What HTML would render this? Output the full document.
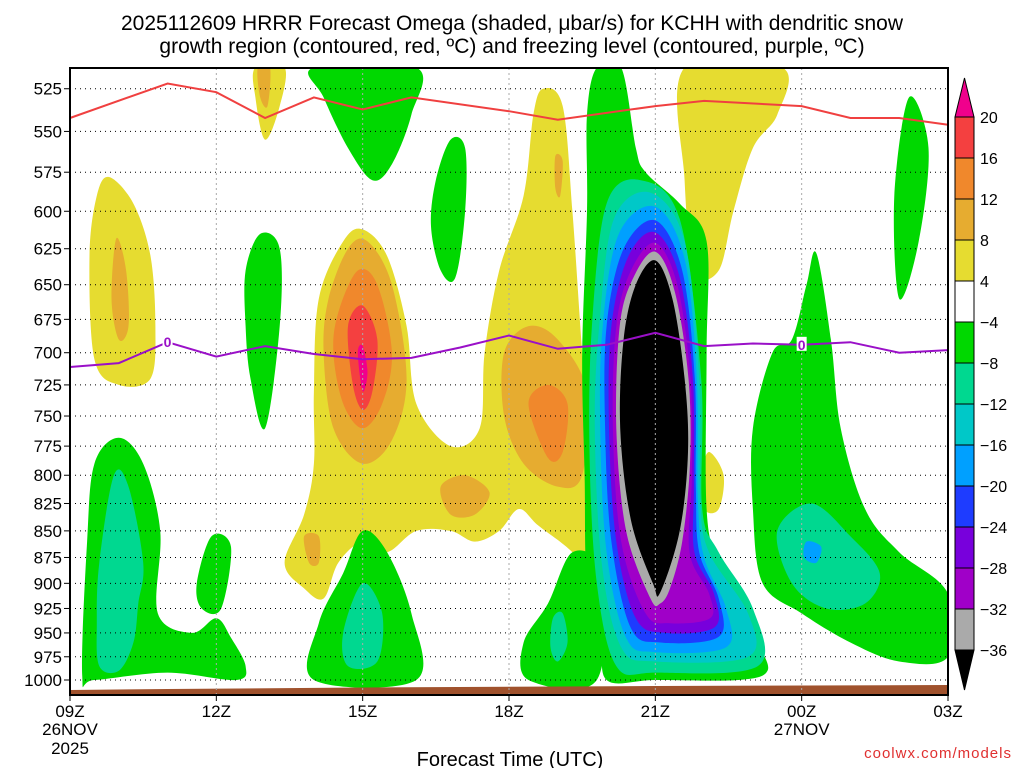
<!DOCTYPE html>
<html><head><meta charset="utf-8"><style>
body{margin:0;background:#fff;}
svg{display:block;font-family:"Liberation Sans","DejaVu Sans",sans-serif;}
</style></head><body>
<svg id="chart" width="1024" height="768" viewBox="0 0 1024 768" xmlns="http://www.w3.org/2000/svg">
<text x="512" y="30" font-size="21" text-anchor="middle">2025112609 HRRR Forecast Omega (shaded, μbar/s) for KCHH with dendritic snow</text>
<text x="512" y="53" font-size="21" text-anchor="middle">growth region (contoured, red, ºC) and freezing level (contoured, purple, ºC)</text>
<g id="fills"></g>
<g id="grid"></g>
<g id="lines"></g>
<g id="axes"></g>
<g id="cbar"></g>
<text x="510" y="766" font-size="20" text-anchor="middle">Forecast Time (UTC)</text>
<text x="1012" y="758" font-size="15" fill="#e03030" text-anchor="end" letter-spacing="1">coolwx.com/models</text>
</svg>
<script>
const C={pink:'#f0008c',red:'#f44040',orange:'#f0882c',gold:'#e6ac30',yellow:'#e6dc30',green:'#00d800',teal:'#00d890',cyan:'#00c8c8',dodger:'#00a0ff',blue:'#1e3cff',purple:'#7800dc',violet:'#a000c8',gray:'#aaaaaa',black:'#000000'};
const timeTicks=[0,3,6,9,12,15,18];
const timeLabels=['09Z','12Z','15Z','18Z','21Z','00Z','03Z'];
const pressureTicks=[525,550,575,600,625,650,675,700,725,750,775,800,825,850,875,900,925,950,975,1000];
const cbarLevels=['20','16','12','8','4','−4','−8','−12','−16','−20','−24','−28','−32','−36'];
const cbarColors=['red','orange','gold','yellow','white','green','teal','cyan','dodger','blue','purple','violet','gray'];
const redLine=[[0,542],[2,522],[3,527],[4,542],[5,530],[6,537],[7,530],[9,538],[10,543],[12,535],[13,532],[15,535],[16,542],[17,542],[18,546]];
const purpleLine=[[0,711],[1,708],[2,692],[3,703],[4,695],[5,701],[6,705],[7,704],[8,696],[9,687],[10,697],[11,694],[12,685],[13,695],[14,693],[15,694],[16,692],[17,700],[18,698]];
const regions=[
['yellow',[[0.8,578],[1.3,595],[1.65,630],[1.75,680],[1.65,720],[1.0,725],[0.5,705],[0.4,630],[0.55,590]]],
['gold',[[0.95,618],[1.15,640],[1.2,680],[1.0,690],[0.85,660]]],
['yellow',[[3.8,513],[4.4,513],[4.3,535],[4.0,555],[3.8,530]]],
['gold',[[3.85,513],[4.1,513],[4.05,535],[3.9,530]]],
['yellow',[[4.4,880],[4.8,835],[5.0,790],[5.0,730],[5.1,660],[5.6,620],[6.0,612],[6.5,630],[6.9,680],[7.1,740],[7.8,775],[8.4,760],[8.5,700],[8.8,640],[9.3,590],[9.5,540],[9.7,525],[10.1,535],[10.3,600],[10.5,700],[10.7,800],[10.9,880],[10.8,900],[10.3,870],[9.6,845],[9.2,830],[8.8,850],[8.3,860],[7.8,850],[7.1,850],[6.5,870],[6.0,860],[5.5,880],[5.2,915],[4.8,905]]],
['gold',[[5.3,660],[5.7,625],[6.1,620],[6.6,650],[6.9,720],[6.6,770],[6.0,790],[5.4,760],[5.2,700]]],
['orange',[[5.5,670],[5.9,640],[6.3,650],[6.6,700],[6.4,740],[6.0,760],[5.6,740],[5.4,700]]],
['red',[[5.7,680],[6.0,665],[6.3,690],[6.2,730],[6.0,745],[5.8,725]]],
['pink',[[5.9,700],[6.0,695],[6.1,715],[6.0,730]]],
['gold',[[8.9,700],[9.4,680],[10.0,690],[10.6,730],[10.5,800],[10.0,810],[9.3,790],[8.9,750]]],
['orange',[[9.4,740],[9.8,725],[10.2,740],[10.1,780],[9.8,785]]],
['gold',[[9.95,565],[10.1,568],[10.05,590],[9.95,585]]],
['gold',[[7.6,810],[8.1,800],[8.6,815],[8.3,835],[7.8,835]]],
['gold',[[4.8,855],[5.1,855],[5.1,880],[4.9,880]]],
['yellow',[[12.6,513],[14.6,513],[14.5,540],[14.0,560],[13.6,600],[13.3,640],[12.8,640],[12.6,580]]],
['yellow',[[13.1,780],[13.4,800],[13.3,830],[13.0,830],[12.95,800]]],
['green',[[5.0,513],[7.1,513],[7.0,540],[6.6,570],[6.2,580],[5.7,560],[5.2,530]]],
['green',[[7.5,580],[7.8,555],[8.1,560],[8.1,600],[7.9,645],[7.6,640],[7.4,610]]],
['green',[[3.6,640],[3.9,615],[4.3,625],[4.3,680],[4.0,760],[3.7,720],[3.6,680]]],
['green',[[0.25,995],[0.35,860],[0.5,790],[1.0,768],[1.5,790],[1.85,850],[1.8,930],[2.5,950],[3.0,935],[3.3,955],[3.6,985],[3.4,1000],[2.0,992],[0.5,1000]]],
['teal',[[0.6,880],[0.9,800],[1.2,810],[1.5,880],[1.4,920],[1.3,960],[1.0,990],[0.6,985],[0.55,940]]],
['green',[[2.6,900],[2.9,855],[3.3,865],[3.1,925],[2.7,925]]],
['green',[[5.0,1000],[5.1,940],[5.6,890],[6.0,850],[6.5,870],[7.0,930],[7.1,1000]]],
['teal',[[5.6,950],[6.0,900],[6.4,930],[6.3,980],[5.7,985]]],
['green',[[9.4,1000],[9.3,960],[9.8,920],[10.3,870],[10.9,890],[10.8,1000]]],
['teal',[[9.9,935],[10.1,930],[10.2,960],[10.0,980],[9.85,965]]],
['green',[[10.8,513],[11.3,513],[11.6,560],[11.8,575],[12.5,595],[13.05,620],[13.05,700],[13.05,830],[13.3,880],[13.8,925],[14.1,960],[14.3,990],[13.7,1000],[12.0,1000],[11.0,1000],[10.9,950],[10.6,900],[10.55,800],[10.5,700],[10.6,600],[10.6,540]]],
['teal',[[11.7,580],[12.5,605],[12.94,720],[12.96,830],[13.3,870],[14.0,925],[14.1,985],[12.0,992],[11.2,985],[10.8,900],[10.65,780],[10.7,680],[11.0,595]]],
['cyan',[[11.9,588],[12.6,620],[12.9,720],[12.92,820],[13.1,870],[13.9,930],[13.9,975],[12.0,980],[11.3,965],[10.9,880],[10.76,760],[10.85,680],[11.15,605]]],
['dodger',[[12.0,597],[12.6,632],[12.85,720],[12.87,820],[13.0,875],[13.45,925],[13.45,965],[12.0,970],[11.4,955],[11.0,870],[10.87,760],[10.92,680],[11.25,615]]],
['blue',[[12.0,606],[12.55,640],[12.81,720],[12.83,810],[12.9,870],[13.3,915],[13.3,954],[12.1,960],[11.5,945],[11.1,860],[10.97,760],[11.0,680],[11.35,625]]],
['purple',[[12.0,614],[12.5,645],[12.77,720],[12.79,810],[12.8,870],[13.2,910],[13.22,944],[12.2,950],[11.6,935],[11.2,860],[11.05,760],[11.1,680],[11.45,630]]],
['violet',[[12.0,621],[12.45,650],[12.72,720],[12.75,800],[12.7,870],[13.1,910],[13.12,935],[12.3,940],[11.8,930],[11.3,860],[11.13,760],[11.2,680],[11.5,640]]],
['gray',[[12.0,627],[12.4,655],[12.68,720],[12.71,790],[12.55,860],[12.3,905],[12.1,920],[11.9,915],[11.4,850],[11.2,760],[11.27,680],[11.55,645]]],
['black',[[12.0,633],[12.35,660],[12.6,720],[12.67,780],[12.5,850],[12.1,909],[11.95,900],[11.5,840],[11.28,760],[11.35,690],[11.6,650]]],
['green',[[14.0,760],[14.4,700],[14.8,690],[15.1,650],[15.3,628],[15.6,690],[15.8,760],[16.3,830],[17.0,870],[18.0,910],[18.0,975],[17.0,980],[16.0,960],[15.0,930],[14.2,900],[14.0,830]]],
['teal',[[14.5,850],[15.2,825],[16.0,855],[16.6,890],[16.3,920],[15.5,925],[14.8,900]]],
['dodger',[[15.1,860],[15.4,865],[15.3,880],[15.05,875]]],
['green',[[16.9,590],[17.2,530],[17.6,560],[17.4,620],[17.0,660]]]
];
const X0=70,X1=948,Y1000=680,K=917.6,YT=68,YB=695;
const xS=h=>X0+h*(X1-X0)/18;
const yS=p=>Y1000-K*Math.log(1000/p);
const NS='http://www.w3.org/2000/svg';
function mk(tag,attrs,parent){const e=document.createElementNS(NS,tag);for(const k in attrs)e.setAttribute(k,attrs[k]);parent.appendChild(e);return e;}
function smooth(pts){const n=pts.length;let d='M'+pts[0][0].toFixed(1)+','+pts[0][1].toFixed(1);
for(let i=0;i<n;i++){const p0=pts[(i-1+n)%n],p1=pts[i],p2=pts[(i+1)%n],p3=pts[(i+2)%n];
const c1=[p1[0]+(p2[0]-p0[0])/6,p1[1]+(p2[1]-p0[1])/6],c2=[p2[0]-(p3[0]-p1[0])/6,p2[1]-(p3[1]-p1[1])/6];
d+='C'+c1.map(v=>v.toFixed(1)).join(',')+' '+c2.map(v=>v.toFixed(1)).join(',')+' '+p2[0].toFixed(1)+','+p2[1].toFixed(1);}
return d+'Z';}
const fills=document.getElementById('fills');
const defs=mk('defs',{},fills);const cp=mk('clipPath',{id:'pc'},defs);mk('rect',{x:X0,y:YT,width:X1-X0,height:YB-YT},cp);
const fg=mk('g',{'clip-path':'url(#pc)'},fills);
regions.forEach((r,i)=>{const el=mk('path',{d:smooth(r[1].map(q=>[xS(q[0]),yS(q[1])])),fill:C[r[0]]},fg);

});
const gr=mk('path',{d:`M${X0},690 L${xS(2)},689 L${xS(6)},687.5 L${xS(12)},686 L${X1},685 L${X1},${YB} L${X0},${YB}Z`,fill:'#a0522d'},fg);


const grid=document.getElementById('grid');
pressureTicks.forEach(p=>{const l=mk('line',{x1:X0,x2:X1,y1:yS(p),y2:yS(p),stroke:'#000','stroke-width':1,'stroke-dasharray':'1,4'},grid);

});
timeTicks.slice(1,-1).forEach(h=>{const l=mk('line',{x1:xS(h),x2:xS(h),y1:YT,y2:YB,stroke:'#aaa','stroke-width':1,'stroke-dasharray':'2,3'},grid);

});
const lines=document.getElementById('lines');
function poly(arr,col,name){const el=mk('polyline',{points:arr.map(q=>xS(q[0]).toFixed(1)+','+yS(q[1]).toFixed(1)).join(' '),fill:'none',stroke:col,'stroke-width':2},lines);

}
poly(redLine,'#f04040','dendritic-growth-contour');
poly(purpleLine,'#9a10c8','freezing-level-contour');
[2,15].forEach(h=>{const v=purpleLine.find(q=>q[0]===h)[1];
mk('rect',{x:xS(h)-5,y:yS(v)-8,width:10,height:14,fill:'#fff'},lines);
const t=mk('text',{x:xS(h),y:yS(v)+5,'font-size':14,'text-anchor':'middle',fill:'#9a10c8','font-weight':'bold'},lines);t.textContent='0';

});
const ax=document.getElementById('axes');
mk('rect',{x:X0,y:YT,width:X1-X0,height:YB-YT,fill:'none',stroke:'#000','stroke-width':2},ax);
pressureTicks.forEach(p=>{mk('line',{x1:X0-6,x2:X0,y1:yS(p),y2:yS(p),stroke:'#000'},ax);
const t=mk('text',{x:X0-8,y:yS(p)+6,'font-size':17,'text-anchor':'end'},ax);t.textContent=p;

});
timeTicks.forEach((h,i)=>{mk('line',{x1:xS(h),x2:xS(h),y1:YB,y2:YB+6,stroke:'#000'},ax);
const t=mk('text',{x:xS(h),y:717,'font-size':17,'text-anchor':'middle'},ax);t.textContent=timeLabels[i];

});
[['26NOV',0,735],['2025',0,754],['27NOV',15,735]].forEach(a=>{const t=mk('text',{x:xS(a[1]),y:a[2],'font-size':17,'text-anchor':'middle'},ax);t.textContent=a[0];

});
const cb=document.getElementById('cbar');
const cx=955,cw=19,ct=117,step=41;
mk('path',{d:`M${cx},${ct} L${cx+cw/2},78 L${cx+cw},${ct}Z`,fill:C.pink,stroke:'#000'},cb);
cbarColors.forEach((c,i)=>{const r=mk('rect',{x:cx,y:ct+i*step,width:cw,height:step,fill:c==='white'?'#fff':C[c],stroke:'#000'},cb);

});
const bt=ct+cbarColors.length*step;
mk('path',{d:`M${cx},${bt} L${cx+cw/2},690 L${cx+cw},${bt}Z`,fill:'#000',stroke:'#000'},cb);
cbarLevels.forEach((l,i)=>{const t=mk('text',{x:980,y:ct+i*step+6,'font-size':16},cb);t.textContent=l;

});
</script>
</body></html>
